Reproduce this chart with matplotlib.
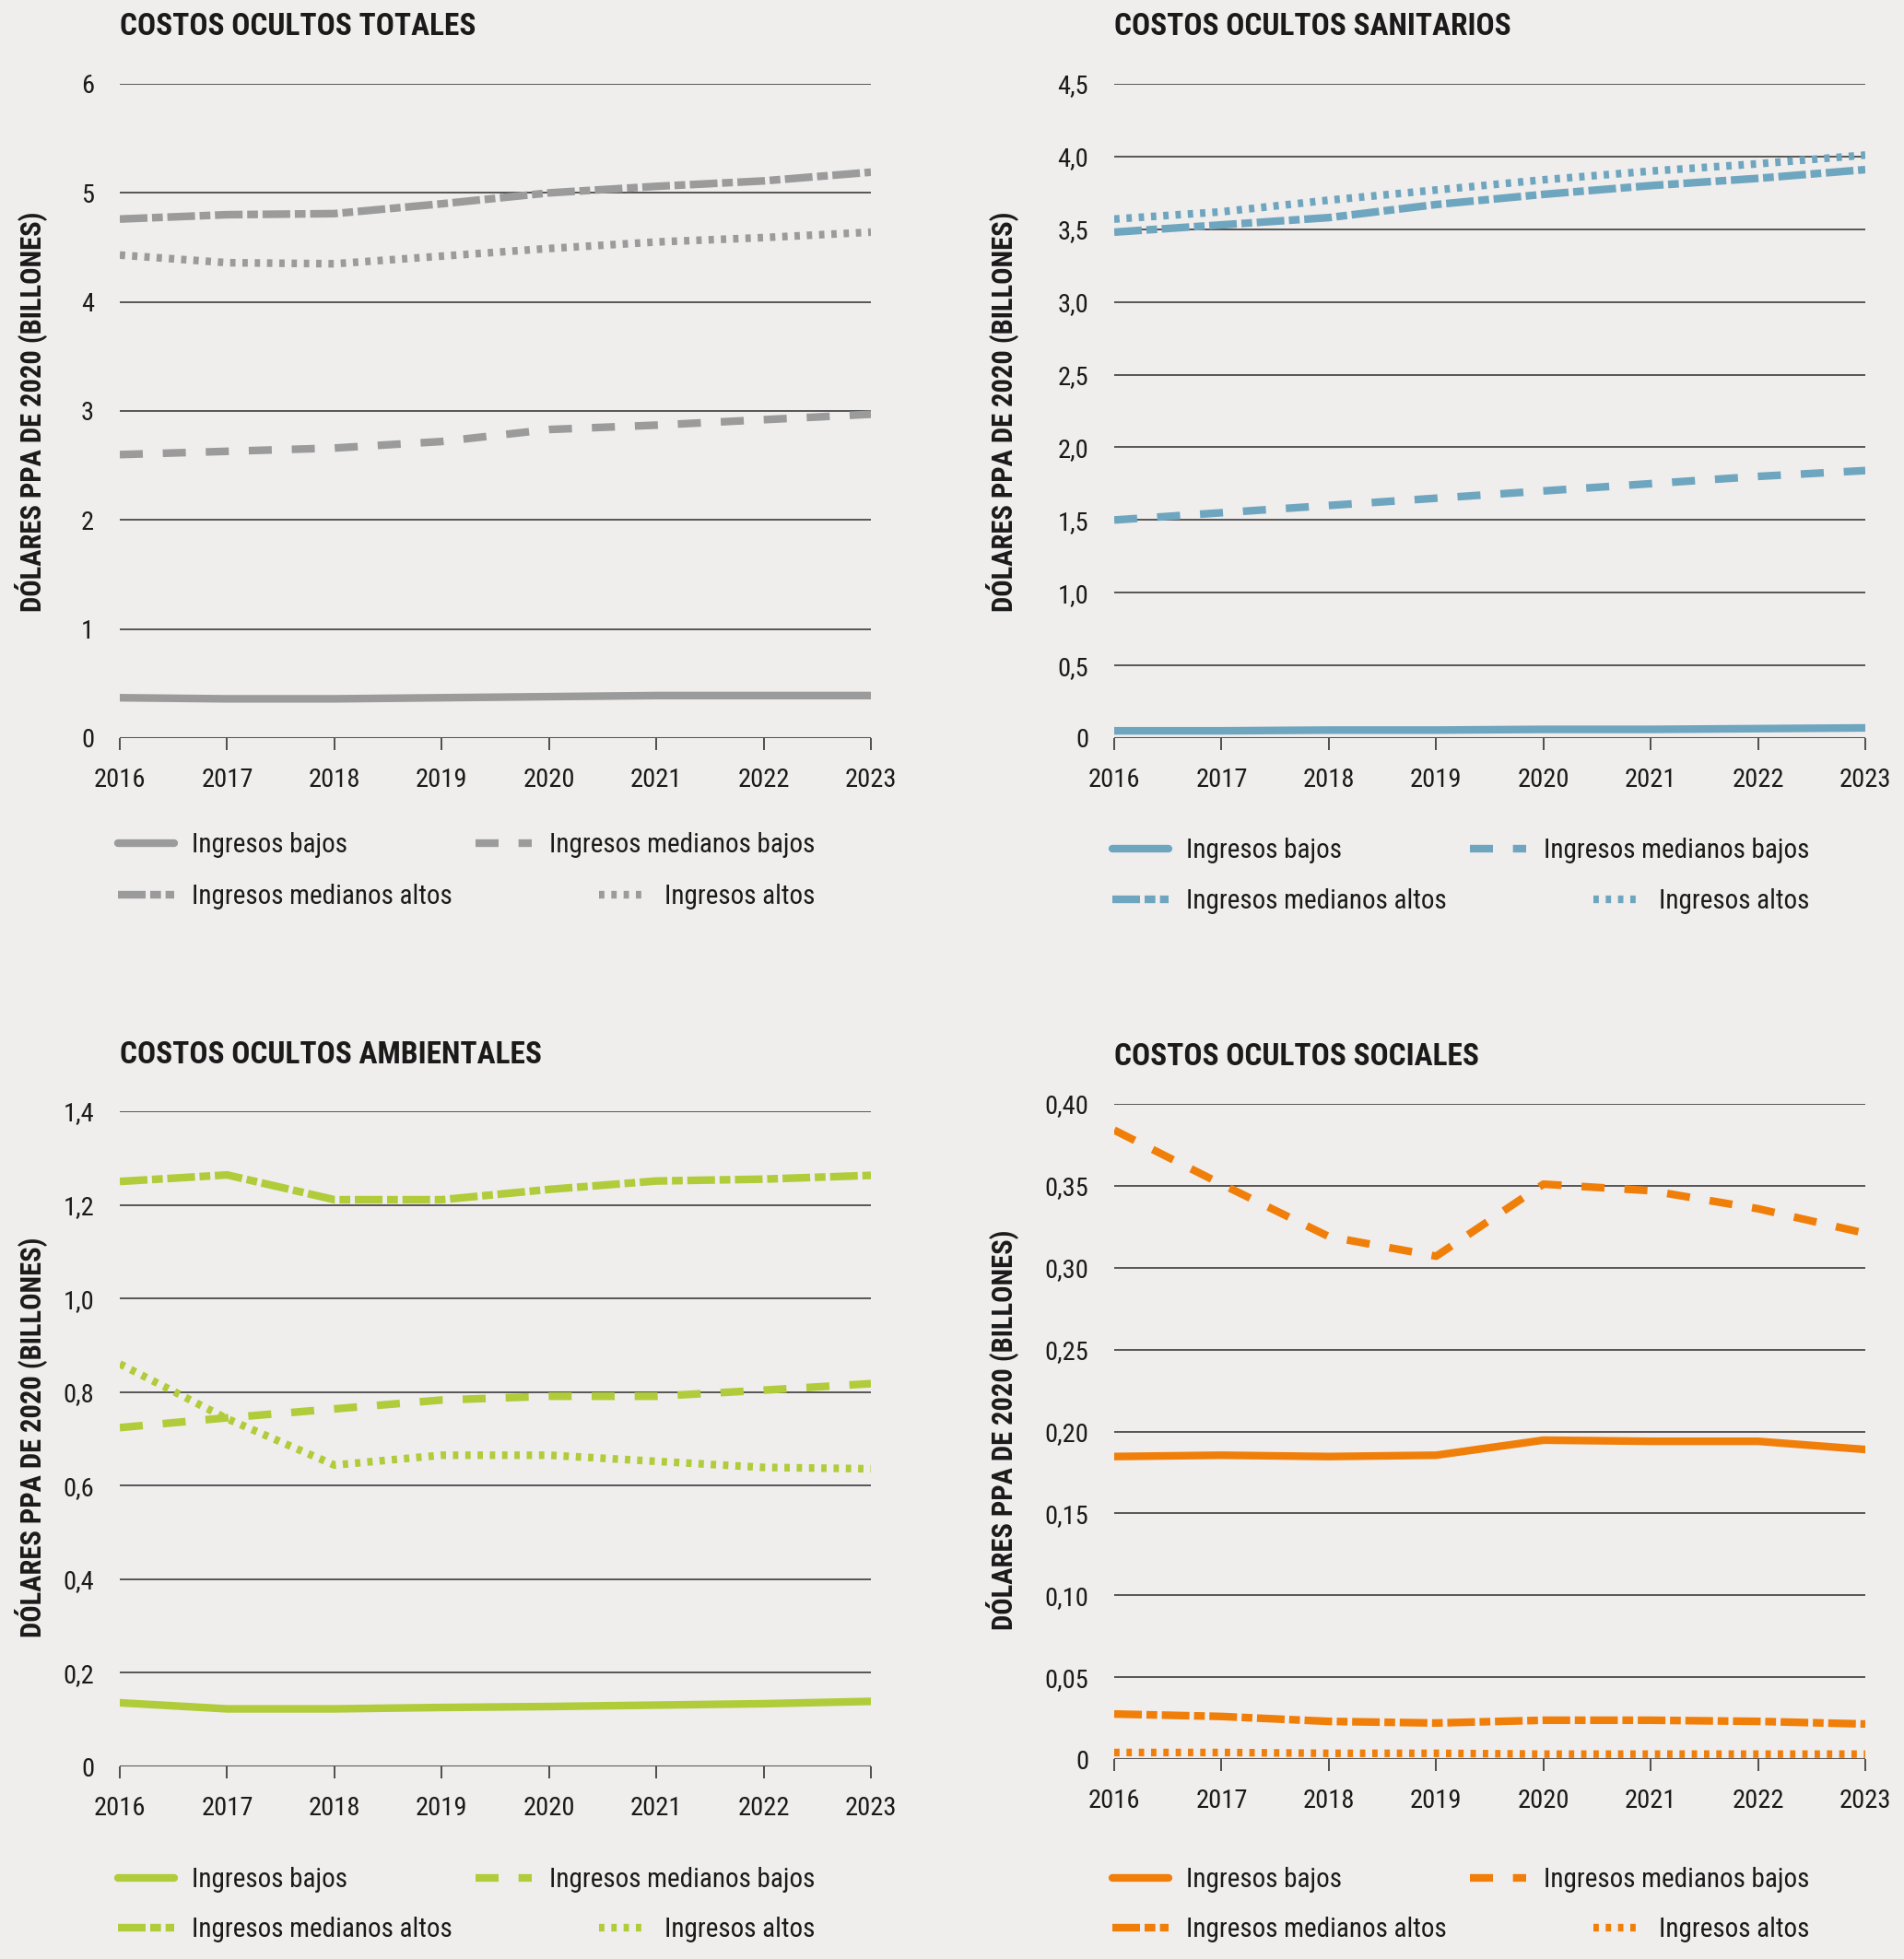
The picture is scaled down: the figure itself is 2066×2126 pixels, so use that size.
import matplotlib
matplotlib.use("Agg")
import matplotlib.pyplot as plt
from matplotlib import font_manager
from matplotlib.lines import Line2D

# ---------------- data ----------------
years = [2016, 2017, 2018, 2019, 2020, 2021, 2022, 2023]
series_labels = ["Ingresos bajos", "Ingresos medianos bajos",
                 "Ingresos medianos altos", "Ingresos altos"]

tot_bajos = [0.37, 0.36, 0.36, 0.37, 0.38, 0.39, 0.39, 0.39]
tot_med_bajos = [2.60, 2.63, 2.66, 2.72, 2.83, 2.87, 2.92, 2.97]
tot_med_altos = [4.76, 4.80, 4.81, 4.90, 5.00, 5.06, 5.11, 5.19]
tot_altos = [4.43, 4.36, 4.35, 4.42, 4.49, 4.55, 4.59, 4.64]

san_bajos = [0.05, 0.05, 0.055, 0.055, 0.06, 0.06, 0.065, 0.07]
san_med_bajos = [1.50, 1.55, 1.60, 1.65, 1.70, 1.75, 1.80, 1.84]
san_med_altos = [3.48, 3.53, 3.58, 3.67, 3.74, 3.80, 3.85, 3.91]
san_altos = [3.57, 3.62, 3.70, 3.77, 3.84, 3.90, 3.95, 4.01]

amb_bajos = [0.136, 0.123, 0.123, 0.126, 0.128, 0.131, 0.134, 0.139]
amb_med_bajos = [0.724, 0.745, 0.764, 0.783, 0.791, 0.791, 0.804, 0.818]
amb_med_altos = [1.250, 1.264, 1.211, 1.211, 1.233, 1.251, 1.255, 1.263]
amb_altos = [0.860, 0.743, 0.644, 0.665, 0.665, 0.652, 0.639, 0.636]

soc_bajos = [0.1847, 0.1855, 0.1847, 0.1855, 0.1947, 0.1940, 0.1940, 0.1890]
soc_med_bajos = [0.384, 0.351, 0.319, 0.307, 0.351, 0.347, 0.336, 0.321]
soc_med_altos = [0.0275, 0.026, 0.023, 0.022, 0.0237, 0.0237, 0.023, 0.0214]
soc_altos = [0.004, 0.004, 0.0035, 0.0035, 0.003, 0.003, 0.003, 0.003]

titles = ["COSTOS OCULTOS TOTALES", "COSTOS OCULTOS SANITARIOS",
          "COSTOS OCULTOS AMBIENTALES", "COSTOS OCULTOS SOCIALES"]
ylabel = "DÓLARES PPA DE 2020 (BILLONES)"

yticks_tot = [0, 1, 2, 3, 4, 5, 6]
ytl_tot = ["0", "1", "2", "3", "4", "5", "6"]
yticks_san = [0, 0.5, 1.0, 1.5, 2.0, 2.5, 3.0, 3.5, 4.0, 4.5]
ytl_san = ["0", "0,5", "1,0", "1,5", "2,0", "2,5", "3,0", "3,5", "4,0", "4,5"]
yticks_amb = [0, 0.2, 0.4, 0.6, 0.8, 1.0, 1.2, 1.4]
ytl_amb = ["0", "0,2", "0,4", "0,6", "0,8", "1,0", "1,2", "1,4"]
yticks_soc = [0, 0.05, 0.10, 0.15, 0.20, 0.25, 0.30, 0.35, 0.40]
ytl_soc = ["0", "0,05", "0,10", "0,15", "0,20", "0,25", "0,30", "0,35", "0,40"]

colors = ["#9b9b9b", "#6fa6bf", "#b0cc3a", "#f07f0a"]

# ---------------- style ----------------
avail = {f.name for f in font_manager.fontManager.ttflist}
FAM = None
STRETCH = "normal"
for cand in ["Liberation Sans Narrow", "Roboto Condensed", "Open Sans Condensed"]:
    if cand in avail:
        FAM = [cand, "DejaVu Sans"]
        break
if FAM is None:
    FAM = ["DejaVu Sans"]
    STRETCH = "condensed"
plt.rcParams["font.family"] = FAM
BG = "#f0eded"

W, H = 2066, 2126
fig = plt.figure(figsize=(W / 100, H / 100), dpi=100, facecolor=BG)

def fx(px):
    return px / W

def fy(py):
    return 1 - py / H

panels = [
    dict(box=(130, 91, 945, 801), data=[tot_bajos, tot_med_bajos, tot_med_altos, tot_altos],
         yt=yticks_tot, ytl=ytl_tot, color=colors[0], title_y=29, ylab=(34, 447),
         leg_rows=(917, 973)),
    dict(box=(1209, 91, 2024, 801), data=[san_bajos, san_med_bajos, san_med_altos, san_altos],
         yt=yticks_san, ytl=ytl_san, color=colors[1], title_y=29, ylab=(1088, 447),
         leg_rows=(923, 978)),
    dict(box=(130, 1206, 945, 1917), data=[amb_bajos, amb_med_bajos, amb_med_altos, amb_altos],
         yt=yticks_amb, ytl=ytl_amb, color=colors[2], title_y=1145, ylab=(34, 1560),
         leg_rows=(2040, 2094)),
    dict(box=(1209, 1198, 2024, 1909), data=[soc_bajos, soc_med_bajos, soc_med_altos, soc_altos],
         yt=yticks_soc, ytl=ytl_soc, color=colors[3], title_y=1147, ylab=(1088, 1552),
         leg_rows=(2040, 2094)),
]

LW = 6
styles = [
    dict(linestyle="-", solid_capstyle="round"),
    dict(linestyle=(0, (3.0, 2.6)), dash_capstyle="butt"),
    dict(linestyle=(0, (3.6, 0.6, 1.4, 0.6)), dash_capstyle="butt"),
    dict(linestyle=(0, (0.7, 0.9)), dash_capstyle="butt"),
]

for i, p in enumerate(panels):
    x0, y0, x1, y1 = p["box"]
    ax = fig.add_axes([fx(x0), fy(y1), fx(x1 - x0), (y1 - y0) / H])
    ax.set_facecolor(BG)
    for sp in ax.spines.values():
        sp.set_visible(False)
    for yv in p["yt"][1:]:
        ax.axhline(yv, color="#4a4a4a", lw=1.3, zorder=1)
    ax.axhline(0, color="#555555", lw=2.2, zorder=1)
    for j, vals in enumerate(p["data"]):
        ax.plot(years, vals, color=p["color"], lw=LW, zorder=3,
                solid_joinstyle="round", **styles[j])
    ax.set_xlim(years[0], years[-1])
    ax.set_ylim(0, p["yt"][-1])
    ax.set_yticks(p["yt"])
    ax.set_yticklabels(p["ytl"], fontsize=20.5, color="#1a1a1a", fontstretch=STRETCH)
    ax.set_xticks(years)
    ax.set_xticklabels([str(y) for y in years], fontsize=20.5, color="#1a1a1a",
                       fontstretch=STRETCH)
    ax.tick_params(axis="y", length=0, pad=20)
    ax.tick_params(axis="x", length=9, width=1.2, color="#333333", pad=14, direction="out")
    ax.margins(0)

    # title
    fig.text(fx(x0), fy(p["title_y"]), titles[i], fontsize=24, fontweight="bold",
             color="#1a1a1a", va="center", ha="left", fontstretch=STRETCH)
    # y label
    fig.text(fx(p["ylab"][0]), fy(p["ylab"][1]), ylabel, rotation=90, fontsize=22,
             fontweight="bold", color="#1a1a1a", va="center", ha="center",
             fontstretch=STRETCH)

    # legends (4 single-entry legends; column 2 right aligned)
    r1, r2 = p["leg_rows"]
    width = x1 - x0
    entries = [
        (0, x0 - 2, r1, "center left", False),
        (2, x0 - 2, r2, "center left", False),
        (1, x0 + 0.926 * width, r1, "center right", True),
        (3, x0 + 0.926 * width, r2, "center right", True),
    ]
    for j, lx, ly, loc, right in entries:
        h = Line2D([0], [0], color=p["color"], lw=LW, **styles[j])
        hl = 2.1 if j != 3 else 1.8
        leg = fig.legend([h], [series_labels[j]], loc=loc,
                         bbox_to_anchor=(fx(lx), fy(ly)), bbox_transform=fig.transFigure,
                         frameon=False, borderpad=0, borderaxespad=0,
                         handlelength=hl, handletextpad=0.65,
                         prop=dict(family=FAM, size=21, stretch=STRETCH))
        for t in leg.get_texts():
            t.set_color("#1a1a1a")

fig.savefig("out.png", dpi=100, facecolor=BG)
